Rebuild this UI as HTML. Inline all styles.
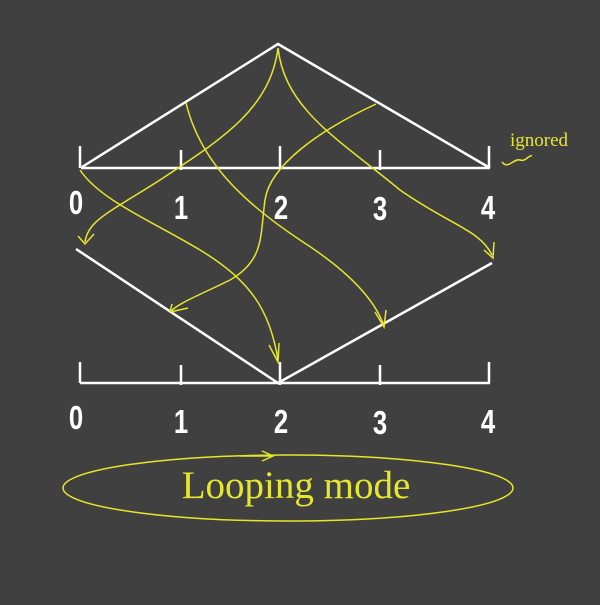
<!DOCTYPE html>
<html><head><style>body{margin:0;background:#404040}
.d text{transform:scaleX(0.78);transform-box:fill-box;transform-origin:center}</style></head><body>
<svg width="600" height="600" viewBox="0 0 600 600" xmlns="http://www.w3.org/2000/svg">
<rect width="600" height="600" fill="#404040"/>
<g stroke="#fff" stroke-width="2.5" fill="none">
<path d="M81,168 L490,168 M82,167 L278,44 L490,168"/>
<path d="M80,146V168 M181,150V170 M280,146V168 M380,150V170 M489,146V168"/>
<path d="M76,249 L278,383 L492,263"/>
<path d="M80,383 L490,383 M80,362V383 M181,365V385 M280,362V385 M380,365V385 M489,362V383"/>
</g>
<g class="d" fill="#fff" font-family="Liberation Sans, sans-serif" font-weight="bold" font-size="33" text-anchor="middle">
<text x="76" y="214">0</text>
<text x="181" y="219">1</text><text x="281" y="219">2</text><text x="380" y="220">3</text><text x="488" y="219">4</text>
<text x="76" y="429">0</text>
<text x="181" y="433">1</text><text x="281" y="433">2</text><text x="380" y="434">3</text><text x="488" y="433">4</text>
</g>
<g stroke="#e6e62a" stroke-width="1.5" fill="none">
<path d="M278,48 C270,110 220,140 160,180 C110,212 88,220 85,242"/>
<path d="M78,236 L85,244 L94,234"/>
<path d="M186,103 C200,160 240,200 300,240 C350,272 375,300 384,326"/>
<path d="M375,312 L384,327 L386,310"/>
<path d="M278,48 C285,110 340,140 400,190 C450,225 480,230 492,255"/>
<path d="M484,250 L493,258 L494,242"/>
<path d="M376,104 C320,130 270,165 265,200 C260,235 265,260 230,280 C200,295 180,302 170,312"/>
<path d="M172,304 L170,312 L188,308"/>
<path d="M80,170 C100,200 150,220 200,250 C250,280 270,310 278,360"/>
<path d="M269,345 L278,362 L279,343"/>
<ellipse cx="288" cy="488" rx="225" ry="33"/>
<path d="M240,456 L272,456 M262,451 L273,456 L262,461"/>
<path d="M502,162 C508,170 514,158 520,160 C526,162 528,155 532,156"/>
</g>
<text x="510" y="146" fill="#e6e62a" font-family="Liberation Serif, serif" font-size="19">ignored</text>
<text x="296" y="498" fill="#e6e62a" font-family="Liberation Serif, serif" font-size="39" text-anchor="middle">Looping mode</text>
</svg>
</body></html>
